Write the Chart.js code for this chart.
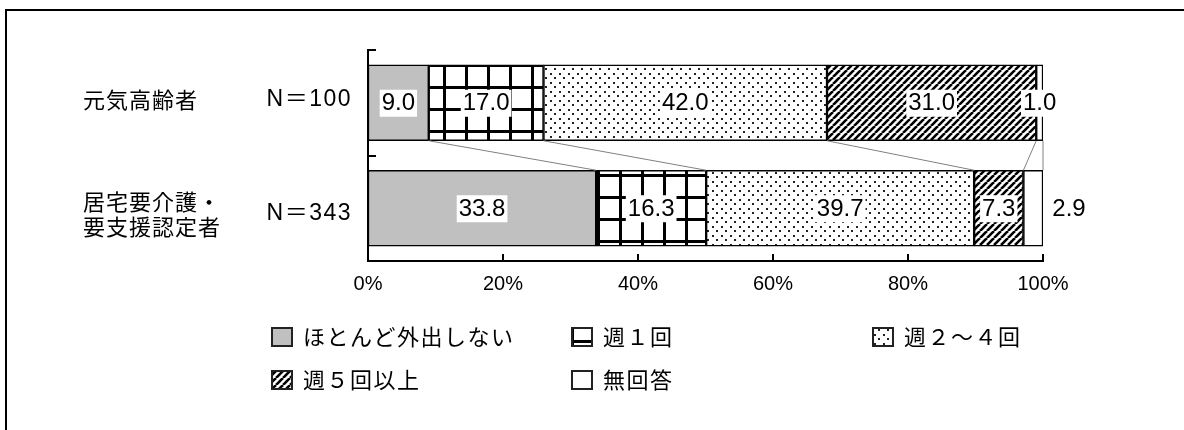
<!DOCTYPE html>
<html>
<head>
<meta charset="utf-8">
<script src="https://cdn.jsdelivr.net/npm/chart.js@4.4.0/dist/chart.umd.min.js"></script>
<style>
  html, body { margin: 0; padding: 0; background: #fff; }
  #wrap { position: relative; width: 1184px; height: 430px; overflow: hidden; }
  #frame { position: absolute; left: 5px; top: 9px; right: -10px; bottom: -10px; border-left: 2px solid #000; border-top: 2px solid #000; }
  canvas { position: absolute; left: 0; top: 0; }
</style>
</head>
<body>
<div id="wrap"><div id="frame"></div><canvas id="outingChart" width="1184" height="430"></canvas></div>
<script>
// * data
const groupLines = [["元気高齢者"], ["居宅要介護・", "要支援認定者"]];
const groupN = ["N＝100", "N＝343"];
const seriesNames = ["ほとんど外出しない", "週１回", "週２～４回", "週５回以上", "無回答"];
const noOuting = [9.0, 33.8];
const onceWeek = [17.0, 16.3];
const twoToFour = [42.0, 39.7];
const fivePlus = [31.0, 7.3];
const noAnswer = [1.0, 2.9];
const xTickStep = 20;

// label of [dataset, row] drawn to the right of its bar
const outsideLabels = ["4-1"];

// ? patterns
const pctx = document.createElement("canvas").getContext("2d");
function makeTile(w, h, draw) {
  const c = document.createElement("canvas");
  c.width = w;
  c.height = h;
  const g = c.getContext("2d");
  g.fillStyle = "#fff";
  g.fillRect(0, 0, w, h);
  draw(g, w, h);
  return c;
}
const gridFill = pctx.createPattern(
  makeTile(22, 22, (g) => {
    g.fillStyle = "#000";
    g.fillRect(0, 0, 3, 22);
    g.fillRect(0, 0, 22, 3);
  }),
  "repeat"
);
gridFill.setTransform(new DOMMatrix().translate(3, -2));
const dotFill = pctx.createPattern(
  makeTile(9, 9, (g) => {
    g.fillStyle = "#222";
    g.fillRect(1, 1, 2, 2);
    g.fillRect(5, 5, 2, 2);
  }),
  "repeat"
);
const stripeFill = pctx.createPattern(
  makeTile(7, 7, (g) => {
    g.strokeStyle = "#000";
    g.lineWidth = 2.6;
    [-7, 0, 7].forEach((o) => {
      g.beginPath();
      g.moveTo(o, 7);
      g.lineTo(o + 7, 0);
      g.stroke();
    });
  }),
  "repeat"
);
const fills = ["#c0c0c0", gridFill, dotFill, stripeFill, "#ffffff"];
const allValues = [noOuting, onceWeek, twoToFour, fivePlus, noAnswer];

const cjk = "'Noto Sans CJK JP', sans-serif";

const extras = {
  id: "extras",
  afterDatasetsDraw(chart) {
    const ctx = chart.ctx;
    const area = chart.chartArea;
    const x = chart.scales.x;
    const y = chart.scales.y;
    ctx.save();

    // inside ticks
    ctx.strokeStyle = "#000";
    ctx.lineWidth = 2;
    x.ticks.forEach((t) => {
      const px = Math.round(x.getPixelForValue(t.value));
      ctx.beginPath();
      ctx.moveTo(px, area.bottom);
      ctx.lineTo(px, area.bottom - 7);
      ctx.stroke();
    });
    const band = y.getPixelForValue(1) - y.getPixelForValue(0);
    groupLines.forEach((g, i) => {
      const py = Math.round(y.getPixelForValue(i) - band / 2);
      ctx.beginPath();
      ctx.moveTo(area.left, py);
      ctx.lineTo(area.left + 8, py);
      ctx.stroke();
    });

    // series lines
    ctx.strokeStyle = "#808080";
    ctx.lineWidth = 1;
    chart.data.datasets.forEach((ds, k) => {
      const meta = chart.getDatasetMeta(k);
      const a = meta.data[0].getProps(["x", "y", "height"], true);
      const b = meta.data[1].getProps(["x", "y", "height"], true);
      ctx.beginPath();
      ctx.moveTo(a.x, a.y + a.height / 2);
      ctx.lineTo(b.x, b.y - b.height / 2);
      ctx.stroke();
    });

    // data labels
    ctx.font = "24px 'Liberation Sans', sans-serif";
    ctx.textAlign = "center";
    ctx.textBaseline = "middle";
    chart.data.datasets.forEach((ds, k) => {
      const meta = chart.getDatasetMeta(k);
      meta.data.forEach((el, i) => {
        const p = el.getProps(["x", "y", "base"], true);
        const txt = ds.data[i].toFixed(1);
        const w = ctx.measureText(txt).width;
        let cx = (p.x + p.base) / 2;
        if (outsideLabels.includes(k + "-" + i)) {
          cx = p.x + 26;
        } else {
          ctx.fillStyle = "#fff";
          ctx.fillRect(cx - w / 2 - 2, p.y - 13, w + 4, 27);
        }
        ctx.fillStyle = "#000";
        ctx.fillText(txt, cx, p.y + 1);
      });
    });

    // category labels
    ctx.textAlign = "left";
    ctx.letterSpacing = "1px";
    groupLines.forEach((lines, i) => {
      const yc = y.getPixelForValue(i);
      const shift = lines.length > 1 ? 6 : -3;
      ctx.font = "22px " + cjk;
      lines.forEach((ln, li) => {
        ctx.fillText(ln, 83, yc + shift + (li - (lines.length - 1) / 2) * 25.5);
      });
      ctx.font = "23px 'Liberation Sans', " + cjk;
      ctx.textAlign = "right";
      ctx.letterSpacing = "1.5px";
      ctx.fillText(groupN[i], 352, yc + (lines.length > 1 ? 5 : -3));
      ctx.textAlign = "left";
      ctx.letterSpacing = "1px";
    });

    // legend
    const cols = [271, 571, 872];
    const rows = [337, 380];
    ctx.font = "22px " + cjk;
    ctx.letterSpacing = "1.5px";
    chart.data.datasets.forEach((ds, k) => {
      const sx = cols[k % 3];
      const sy = rows[Math.floor(k / 3)];
      ctx.save();
      ctx.translate(sx + 19, sy - 10 + 15);
      ctx.fillStyle = ds.backgroundColor;
      ctx.fillRect(-19, -15, 22, 20);
      ctx.restore();
      ctx.strokeStyle = "#222";
      ctx.lineWidth = 2;
      ctx.strokeRect(sx + 1, sy - 9, 20, 18);
      ctx.fillStyle = "#000";
      ctx.fillText(ds.label, sx + 32, sy);
    });
    ctx.restore();
  },
};

const outingCanvas = document.getElementById("outingChart").getContext("2d");
const outingChart = new Chart(outingCanvas, {
  type: "bar",
  data: {
    labels: groupLines.map((g) => g.join("")),
    datasets: seriesNames.map((name, k) => ({
      label: name,
      data: allValues[k],
      backgroundColor: fills[k],
      borderColor: "#000",
      borderWidth: 1.5,
      borderSkipped: false,
      barThickness: 76,
    })),
  },
  options: {
    responsive: false,
    animation: false,
    indexAxis: "y",
    layout: { padding: { left: 368, right: 141, top: 50, bottom: 0 } },
    plugins: { legend: { display: false }, tooltip: { enabled: false } },
    scales: {
      x: {
        stacked: true,
        min: 0,
        max: 100,
        ticks: {
          stepSize: xTickStep,
          callback: (v) => v + "%",
          font: { family: "'Liberation Sans', sans-serif", size: 20 },
          color: "#000",
          padding: 11,
          maxRotation: 0,
        },
        grid: { display: false, drawTicks: false },
        border: { display: true, color: "#000", width: 2 },
        afterFit(s) {
          s.height = 169;
        },
      },
      y: {
        stacked: true,
        ticks: { display: false },
        grid: { display: false, drawTicks: false },
        border: { display: true, color: "#000", width: 2 },
        afterFit(s) {
          s.width = 0;
        },
      },
    },
  },
  plugins: [extras],
});
</script>
</body>
</html>
